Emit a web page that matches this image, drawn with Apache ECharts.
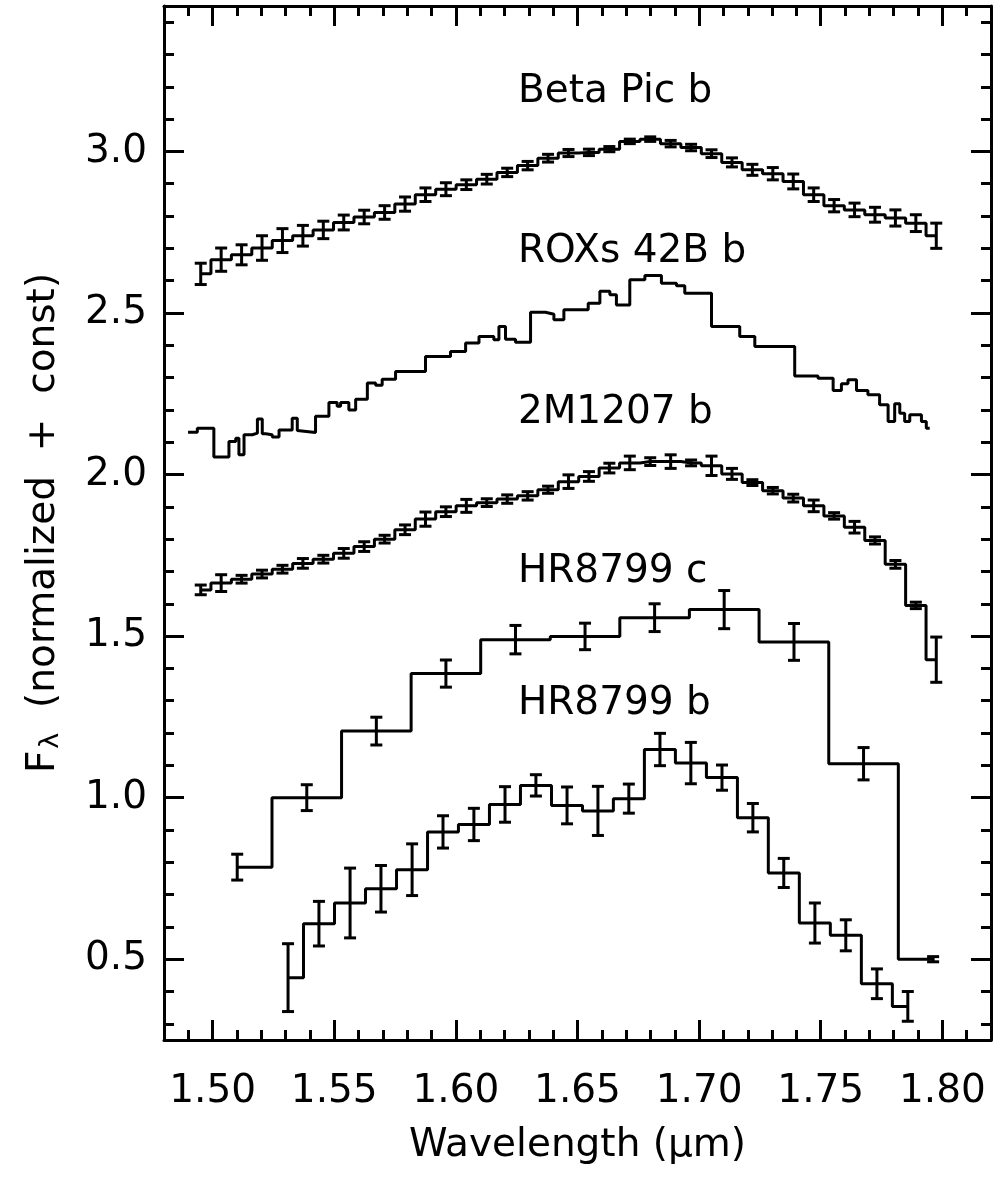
<!DOCTYPE html>
<html>
<head>
<meta charset="utf-8">
<title>H-band spectra</title>
<script src="https://cdn.jsdelivr.net/npm/echarts@6/dist/echarts.min.js"></script>
<style>
  html, body { margin: 0; padding: 0; background: #fff; }
  #chart { width: 995px; height: 1178px; }
</style>
</head>
<body>
<div id="chart"></div>
<script>
// axis ticks
const xMajorTicks = [1.50, 1.55, 1.60, 1.65, 1.70, 1.75, 1.80];
const xMinorTicks = [1.48, 1.49, 1.50, 1.51, 1.52, 1.53, 1.54, 1.55, 1.56, 1.57, 1.58, 1.59, 1.60, 1.61, 1.62, 1.63, 1.64,
    1.65, 1.66, 1.67, 1.68, 1.69, 1.70, 1.71, 1.72, 1.73, 1.74, 1.75, 1.76, 1.77, 1.78, 1.79, 1.80, 1.81, 1.82];
const yMajorTicks = [0.5, 1.0, 1.5, 2.0, 2.5, 3.0];
const yMinorTicks = [0.3, 0.4, 0.5, 0.6, 0.7, 0.8, 0.9, 1.0, 1.1, 1.2, 1.3, 1.4, 1.5, 1.6, 1.7, 1.8, 1.9, 2.0,
    2.1, 2.2, 2.3, 2.4, 2.5, 2.6, 2.7, 2.8, 2.9, 3.0, 3.1, 3.2, 3.3, 3.4];

// Beta Pic b and 2M1207 b share the same wavelength grid
const wlFine = [1.4951, 1.5035, 1.5119, 1.5203, 1.5287, 1.5371, 1.5455, 1.5539, 1.5623, 1.5707, 1.5791, 1.5875,
    1.5959, 1.6043, 1.6127, 1.6211, 1.6295, 1.6379, 1.6463, 1.6547, 1.6631, 1.6715, 1.6799, 1.6883, 1.6967,
    1.7051, 1.7135, 1.7219, 1.7303, 1.7387, 1.7471, 1.7555, 1.7639, 1.7723, 1.7807, 1.7891, 1.7975];
const betaPicFlux = [2.621, 2.665, 2.680, 2.701, 2.724, 2.739, 2.757, 2.780, 2.797, 2.811, 2.837, 2.866, 2.883,
    2.897, 2.914, 2.935, 2.956, 2.979, 2.995, 2.997, 3.007, 3.031, 3.038, 3.024, 3.012, 2.993, 2.966, 2.943,
    2.931, 2.907, 2.866, 2.832, 2.819, 2.804, 2.794, 2.778, 2.739];
const betaPicErr = [0.033, 0.036, 0.031, 0.038, 0.037, 0.032, 0.027, 0.023, 0.021, 0.021, 0.022, 0.021, 0.020,
    0.015, 0.015, 0.013, 0.013, 0.012, 0.011, 0.010, 0.008, 0.007, 0.007, 0.010, 0.010, 0.012, 0.014, 0.017,
    0.019, 0.023, 0.021, 0.019, 0.021, 0.023, 0.025, 0.026, 0.039];
const m1207Flux = [1.643, 1.664, 1.676, 1.692, 1.707, 1.725, 1.738, 1.756, 1.777, 1.800, 1.829, 1.862, 1.885,
    1.903, 1.913, 1.924, 1.934, 1.953, 1.978, 1.994, 2.020, 2.036, 2.040, 2.040, 2.036, 2.027, 2.002, 1.975,
    1.950, 1.927, 1.903, 1.872, 1.837, 1.796, 1.722, 1.595, 1.427];
const m1207Err = [0.015, 0.026, 0.012, 0.012, 0.012, 0.015, 0.012, 0.015, 0.015, 0.012, 0.015, 0.022, 0.015,
    0.020, 0.012, 0.013, 0.013, 0.011, 0.021, 0.015, 0.015, 0.021, 0.012, 0.021, 0.009, 0.030, 0.017, 0.009,
    0.010, 0.012, 0.018, 0.010, 0.018, 0.011, 0.012, 0.010, 0.070];

// ROXs 42B b: left edge of each flat step, and its level (last entry closes the trace)
const roxWl = [1.4899, 1.4937, 1.5005, 1.5067, 1.5095, 1.5108, 1.5129, 1.5163, 1.5184, 1.5204, 1.5218, 1.5245,
    1.5273, 1.5327, 1.5348, 1.5355, 1.5423, 1.5478, 1.5512, 1.5526, 1.5560, 1.5588, 1.5636, 1.5670, 1.5697,
    1.5752, 1.5875, 1.5978, 1.6040, 1.6095, 1.6156, 1.6177, 1.6204, 1.6245, 1.6307, 1.6368, 1.6403, 1.6444,
    1.6544, 1.6592, 1.6633, 1.6660, 1.6715, 1.6777, 1.6845, 1.6907, 1.6941, 1.7051, 1.7167, 1.7229, 1.7393,
    1.7489, 1.7551, 1.7585, 1.7612, 1.7647, 1.7694, 1.7742, 1.7777, 1.7804, 1.7825, 1.7845, 1.7866, 1.7914,
    1.7934, 1.7948];
const roxFlux = [2.131, 2.143, 2.054, 2.102, 2.112, 2.061, 2.123, 2.128, 2.172, 2.126, 2.123, 2.116, 2.138,
    2.174, 2.136, 2.130, 2.180, 2.223, 2.211, 2.223, 2.200, 2.233, 2.283, 2.276, 2.295, 2.319, 2.365, 2.381,
    2.407, 2.427, 2.417, 2.458, 2.419, 2.409, 2.502, 2.496, 2.479, 2.510, 2.530, 2.567, 2.556, 2.525, 2.603,
    2.616, 2.592, 2.584, 2.561, 2.458, 2.427, 2.396, 2.305, 2.298, 2.260, 2.281, 2.293, 2.260, 2.247, 2.216,
    2.164, 2.219, 2.190, 2.164, 2.185, 2.164, 2.143, 2.143];

// HR8799 c
const hrcWl = [1.5101, 1.5387, 1.5673, 1.5959, 1.6245, 1.6531, 1.6817, 1.7103, 1.7390, 1.7676, 1.7962];
const hrcFlux = [0.785, 1.000, 1.206, 1.384, 1.489, 1.499, 1.557, 1.582, 1.482, 1.105, 0.500];
const hrcErr = [0.040, 0.040, 0.043, 0.042, 0.044, 0.041, 0.043, 0.059, 0.057, 0.050, 0.008];

// HR8799 b
const hrbWl = [1.5310, 1.5437, 1.5565, 1.5692, 1.5820, 1.5947, 1.6074, 1.6202, 1.6329, 1.6457, 1.6584,
    1.6711, 1.6839, 1.6966, 1.7094, 1.7221, 1.7348, 1.7476, 1.7603, 1.7731, 1.7858];
const hrbFlux = [0.443, 0.610, 0.674, 0.718, 0.777, 0.894, 0.917, 0.979, 1.038, 0.976, 0.959, 0.997, 1.149,
    1.107, 1.062, 0.938, 0.767, 0.612, 0.574, 0.424, 0.354];
const hrbErr = [0.105, 0.069, 0.108, 0.072, 0.080, 0.050, 0.050, 0.055, 0.033, 0.057, 0.076, 0.045, 0.050,
    0.064, 0.039, 0.044, 0.045, 0.062, 0.048, 0.046, 0.046];

// object names written next to each spectrum
const labelNames = ['Beta Pic b', 'ROXs 42B b', '2M1207 b', 'HR8799 c', 'HR8799 b'];
const labelWl = [1.6255, 1.6255, 1.6255, 1.6255, 1.6255];
const labelFlux = [3.184, 2.690, 2.192, 1.699, 1.289];

const FONT = 'DejaVu Sans';
const xMin = 1.48, xMax = 1.82, yMin = 0.25, yMax = 3.45;

const zip = (a, b) => a.map((v, i) => [v, b[i]]);
const zip3 = (a, b, c) => a.map((v, i) => [v, b[i], c[i]]);

function stepLine(name, wl, flux, step) {
    return {
        name: name,
        type: 'line',
        step: step,
        data: zip(wl, flux),
        symbol: 'none',
        lineStyle: { color: '#000', width: 3 },
        silent: true
    };
}

function errorBars(name, wl, flux, err) {
    return {
        name: name,
        type: 'custom',
        data: zip3(wl, flux, err),
        encode: { x: 0, y: 1 },
        silent: true,
        renderItem: function (params, api) {
            const x = api.value(0), y = api.value(1), e = api.value(2);
            const lo = api.coord([x, y - e]);
            const hi = api.coord([x, y + e]);
            const w = 6;
            const style = { stroke: '#000', lineWidth: 3 };
            return {
                type: 'group',
                children: [
                    { type: 'line', shape: { x1: lo[0], y1: lo[1], x2: hi[0], y2: hi[1] }, style: style },
                    { type: 'line', shape: { x1: lo[0] - w, y1: lo[1], x2: lo[0] + w, y2: lo[1] }, style: style },
                    { type: 'line', shape: { x1: hi[0] - w, y1: hi[1], x2: hi[0] + w, y2: hi[1] }, style: style }
                ]
            };
        }
    };
}

function xAxisDef(position, ticks, tickLen, withLine, withLabel) {
    const ax = {
        type: 'value',
        position: position,
        min: xMin,
        max: xMax,
        axisLine: { show: withLine, onZero: false, lineStyle: { color: '#000', width: 3 } },
        axisTick: { show: true, inside: true, length: tickLen, customValues: ticks, lineStyle: { color: '#000', width: 3 } },
        axisLabel: { show: false },
        splitLine: { show: false }
    };
    if (withLabel) {
        ax.axisLabel = {
            show: true,
            customValues: ticks,
            formatter: v => v.toFixed(2),
            margin: 32,
            fontSize: 39,
            fontFamily: FONT,
            color: '#000'
        };
        ax.name = 'Wavelength (\u03bcm)';
        ax.nameLocation = 'middle';
        ax.nameGap = 86;
        ax.nameTextStyle = { fontSize: 39, fontFamily: FONT, color: '#000' };
    }
    return ax;
}

function yAxisDef(position, ticks, tickLen, withLine, withLabel) {
    const ax = {
        type: 'value',
        position: position,
        min: yMin,
        max: yMax,
        axisLine: { show: withLine, onZero: false, lineStyle: { color: '#000', width: 3 } },
        axisTick: { show: true, inside: true, length: tickLen, customValues: ticks, lineStyle: { color: '#000', width: 3 } },
        axisLabel: { show: false },
        splitLine: { show: false }
    };
    if (withLabel) {
        ax.axisLabel = {
            show: true,
            customValues: ticks,
            formatter: v => v.toFixed(1),
            margin: 17,
            fontSize: 39,
            fontFamily: FONT,
            color: '#000'
        };
        ax.name = 'F{sub|\u03bb}  (normalized  +  const)';
        ax.nameLocation = 'middle';
        ax.nameGap = 100;
        ax.nameTextStyle = {
            fontSize: 39,
            fontFamily: FONT,
            color: '#000',
            rich: {
                sub: { fontSize: 27, fontFamily: FONT, color: '#000', padding: [14, 0, 0, 2] }
            }
        };
    }
    return ax;
}

const chart = echarts.init(document.getElementById('chart'), null, { renderer: 'canvas' });

chart.setOption({
    animation: false,
    backgroundColor: '#fff',
    grid: { left: 164, right: 4, top: 6, bottom: 138, containLabel: false },
    xAxis: [
        xAxisDef('bottom', xMajorTicks, 20, true, true),
        xAxisDef('bottom', xMinorTicks, 10, false, false),
        xAxisDef('top', xMajorTicks, 20, true, false),
        xAxisDef('top', xMinorTicks, 10, false, false)
    ],
    yAxis: [
        yAxisDef('left', yMajorTicks, 20, true, true),
        yAxisDef('left', yMinorTicks, 10, false, false),
        yAxisDef('right', yMajorTicks, 20, true, false),
        yAxisDef('right', yMinorTicks, 10, false, false)
    ],
    series: [
        stepLine('Beta Pic b', wlFine, betaPicFlux, 'middle'),
        errorBars('Beta Pic b err', wlFine, betaPicFlux, betaPicErr),
        stepLine('ROXs 42B b', roxWl, roxFlux, 'end'),
        stepLine('2M1207 b', wlFine, m1207Flux, 'middle'),
        errorBars('2M1207 b err', wlFine, m1207Flux, m1207Err),
        stepLine('HR8799 c', hrcWl, hrcFlux, 'middle'),
        errorBars('HR8799 c err', hrcWl, hrcFlux, hrcErr),
        stepLine('HR8799 b', hrbWl, hrbFlux, 'middle'),
        errorBars('HR8799 b err', hrbWl, hrbFlux, hrbErr),
        {
            name: 'labels',
            type: 'scatter',
            symbolSize: 0,
            silent: true,
            itemStyle: { opacity: 1 },
            data: labelNames.map((n, i) => [labelWl[i], labelFlux[i], n]),
            label: {
                show: true,
                position: 'right',
                distance: 0,
                formatter: p => p.data[2],
                fontSize: 39,
                fontFamily: FONT,
                color: '#000',
                opacity: 1
            }
        }
    ]
});
</script>
</body>
</html>
